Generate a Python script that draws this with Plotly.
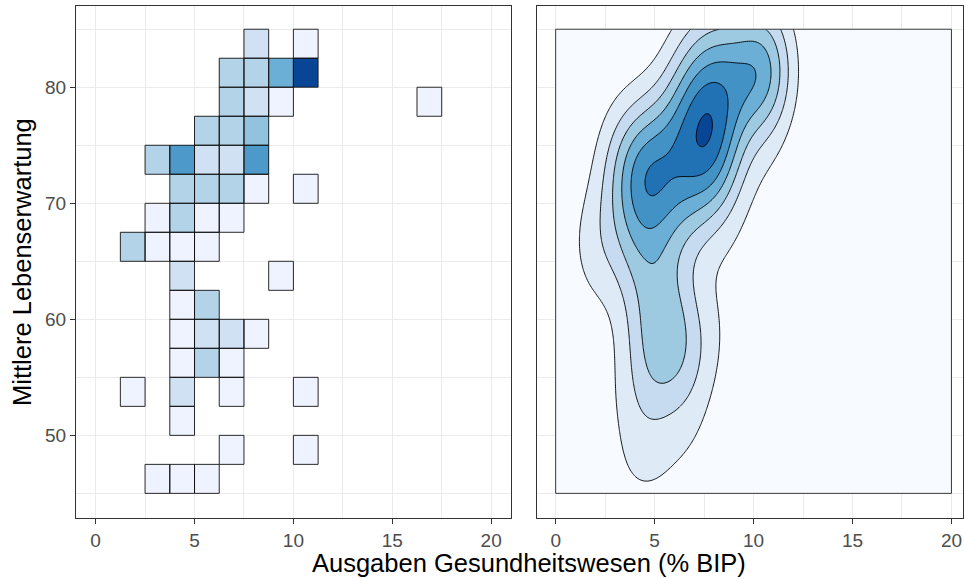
import numpy as np
import plotly.graph_objects as go

# ---- 2D histogram of health expenditure vs. life expectancy ----
# bin size of the histogram grid
BIN_X = 1.25   # % of GDP
BIN_Y = 2.5    # years

# lower-left corners of the occupied bins and the number of countries in each
cell_x = [7.5, 10.0,
          6.25, 7.5, 8.75, 10.0,
          6.25, 7.5, 8.75, 16.25,
          5.0, 6.25, 7.5,
          2.5, 3.75, 5.0, 6.25, 7.5,
          3.75, 5.0, 6.25, 7.5, 10.0,
          2.5, 3.75, 5.0, 6.25,
          1.25, 2.5, 3.75, 5.0,
          3.75, 8.75,
          3.75, 5.0,
          3.75, 5.0, 6.25, 7.5,
          3.75, 5.0, 6.25,
          1.25, 3.75, 6.25, 10.0,
          3.75,
          6.25, 10.0,
          2.5, 3.75, 5.0]
cell_y = [82.5, 82.5,
          80.0, 80.0, 80.0, 80.0,
          77.5, 77.5, 77.5, 77.5,
          75.0, 75.0, 75.0,
          72.5, 72.5, 72.5, 72.5, 72.5,
          70.0, 70.0, 70.0, 70.0, 70.0,
          67.5, 67.5, 67.5, 67.5,
          65.0, 65.0, 65.0, 65.0,
          62.5, 62.5,
          60.0, 60.0,
          57.5, 57.5, 57.5, 57.5,
          55.0, 55.0, 55.0,
          52.5, 52.5, 52.5, 52.5,
          50.0,
          47.5, 47.5,
          45.0, 45.0, 45.0]
cell_n = [2, 1,
          3, 3, 5, 9,
          3, 2, 1, 1,
          3, 3, 4,
          3, 6, 2, 2, 6,
          3, 3, 3, 1, 1,
          1, 3, 1, 1,
          3, 1, 1, 1,
          2, 1,
          1, 3,
          1, 2, 2, 1,
          1, 3, 1,
          1, 2, 1, 1,
          1,
          1, 1,
          1, 1, 1]

# limits of the density estimate grid
DENS_X = [0, 20]
DENS_Y = [45, 85]

X_TITLE = "Ausgaben Gesundheitswesen (% BIP)"
Y_TITLE = "Mittlere Lebenserwartung"

# ColorBrewer "Blues"
BLUES_7 = ["#eff3ff", "#c6dbef", "#9ecae1", "#6baed6", "#4292c6", "#2171b5", "#084594"]
BLUES_8 = ["#f7fbff", "#deebf7", "#c6dbef", "#9ecae1", "#6baed6", "#4292c6", "#2171b5", "#084594"]

cx = np.array(cell_x)
cy = np.array(cell_y)
cn = np.array(cell_n)

# ---- heatmap grid ----
xs = np.arange(cx.min(), cx.max() + BIN_X / 2, BIN_X)
ys = np.arange(cy.min(), cy.max() + BIN_Y / 2, BIN_Y)
z = np.full((len(ys), len(xs)), np.nan)
for x0, y0, n in zip(cx, cy, cn):
    i = int(round((y0 - ys[0]) / BIN_Y))
    j = int(round((x0 - xs[0]) / BIN_X))
    z[i, j] = n
z_list = [[None if np.isnan(v) else float(v) for v in row] for row in z]

heat_cs = [[k / (len(BLUES_7) - 1), c] for k, c in enumerate(BLUES_7)]

heat = go.Heatmap(
    x=xs + BIN_X / 2, y=ys + BIN_Y / 2, z=z_list,
    colorscale=heat_cs, zmin=1, zmax=cn.max(), showscale=False,
    xaxis="x", yaxis="y", hoverinfo="skip",
)

# cell outlines
ox, oy = [], []
for x0, y0 in zip(cx, cy):
    x1, y1 = x0 + BIN_X, y0 + BIN_Y
    ox += [x0, x1, x1, x0, x0, None]
    oy += [y0, y0, y1, y1, y0, None]
outline = go.Scatter(x=ox, y=oy, mode="lines", line=dict(color="#111111", width=0.9),
                     xaxis="x", yaxis="y", hoverinfo="skip")

# ---- 2D kernel density (bandwidth as in MASS::bandwidth.nrd / kde2d) ----
px = np.repeat(cx + BIN_X / 2, cn)
py = np.repeat(cy + BIN_Y / 2, cn)


def bw_nrd(v):
    q75, q25 = np.percentile(v, [75, 25])
    return 4 * 1.06 * min(np.std(v, ddof=1), (q75 - q25) / 1.34) * len(v) ** (-0.2)


NG = 200
gx = np.linspace(DENS_X[0], DENS_X[1], NG)
gy = np.linspace(DENS_Y[0], DENS_Y[1], NG)
hx, hy = bw_nrd(px) / 4, bw_nrd(py) / 4
kx = np.exp(-0.5 * ((gx[:, None] - px[None, :]) / hx) ** 2) / np.sqrt(2 * np.pi)
ky = np.exp(-0.5 * ((gy[:, None] - py[None, :]) / hy) ** 2) / np.sqrt(2 * np.pi)
dens = (ky @ kx.T) / (len(px) * hx * hy)   # rows = y, cols = x


def pretty_step(lo, hi, n=10):
    cell = (hi - lo) / n
    u = 10 ** np.floor(np.log10(cell))
    c = cell / u
    unit = 1
    if 2 - c < 1.5 * (c - 1):
        unit = 2
        if 5 - c < 2.75 * (c - 2):
            unit = 5
            if 10 - c < 1.5 * (c - 5):
                unit = 10
    return unit * u


step = pretty_step(0, dens.max())
n_levels = int(np.floor(dens.max() / step))
dens_cs = [[k / n_levels, BLUES_8[min(k, len(BLUES_8) - 1)]] for k in range(n_levels + 1)]

contour = go.Contour(
    x=gx, y=gy, z=dens,
    contours=dict(start=step, end=n_levels * step, size=step, coloring="fill", showlines=True),
    line=dict(color="black", width=0.9),
    colorscale=dens_cs, showscale=False,
    xaxis="x2", yaxis="y2", hoverinfo="skip",
)

frame = go.Scatter(
    x=[DENS_X[0], DENS_X[1], DENS_X[1], DENS_X[0], DENS_X[0]],
    y=[DENS_Y[0], DENS_Y[0], DENS_Y[1], DENS_Y[1], DENS_Y[0]],
    mode="lines", line=dict(color="#222222", width=0.9),
    xaxis="x2", yaxis="y2", hoverinfo="skip",
)

fig = go.Figure([heat, outline, contour, frame])

GRID = "#ebebeb"
AX = "#333333"
TICKFONT = dict(size=19, color="#4d4d4d")
common = dict(
    showgrid=True, gridcolor=GRID, gridwidth=1.1, zeroline=False,
    showline=True, mirror=True, linecolor=AX, linewidth=1.1,
    tick0=0,
)
y_range = [42.88, 87.03]
y_dom = [0.1054, 0.9902]

fig.update_layout(
    width=964, height=579,
    margin=dict(l=0, r=0, t=0, b=0),
    paper_bgcolor="white", plot_bgcolor="white",
    showlegend=False,
    font=dict(family="Liberation Sans, Arial, sans-serif"),
    xaxis=dict(domain=[0.0787, 0.5300], range=[-1, 21], dtick=5, anchor="y",
               ticks="outside", ticklen=5, tickwidth=1.1, tickcolor=AX, tickfont=TICKFONT,
               minor=dict(dtick=2.5, showgrid=True, gridcolor=GRID, gridwidth=0.6), **common),
    yaxis=dict(domain=y_dom, range=y_range, dtick=10, anchor="x",
               ticks="outside", ticklen=5, tickwidth=1.1, tickcolor=AX, tickfont=TICKFONT,
               minor=dict(dtick=5, showgrid=True, gridcolor=GRID, gridwidth=0.6), **common),
    xaxis2=dict(domain=[0.5567, 0.9993], range=[-0.96, 20.6], dtick=5, anchor="y2",
                ticks="outside", ticklen=5, tickwidth=1.1, tickcolor=AX, tickfont=TICKFONT,
                minor=dict(dtick=2.5, showgrid=True, gridcolor=GRID, gridwidth=0.6), **common),
    yaxis2=dict(domain=y_dom, range=y_range, dtick=10, anchor="x2",
                ticks="", showticklabels=False,
                minor=dict(dtick=5, showgrid=True, gridcolor=GRID, gridwidth=0.6), **common),
    annotations=[
        dict(text=X_TITLE, xref="paper", yref="paper", x=0.5488, y=0.0276,
             xanchor="center", yanchor="middle", showarrow=False,
             font=dict(size=25.5, color="black")),
        dict(text=Y_TITLE, xref="paper", yref="paper", x=0.0228, y=0.5475,
             xanchor="center", yanchor="middle", showarrow=False, textangle=-90,
             font=dict(size=25.5, color="black")),
    ],
)

fig.write_html("out.html")
